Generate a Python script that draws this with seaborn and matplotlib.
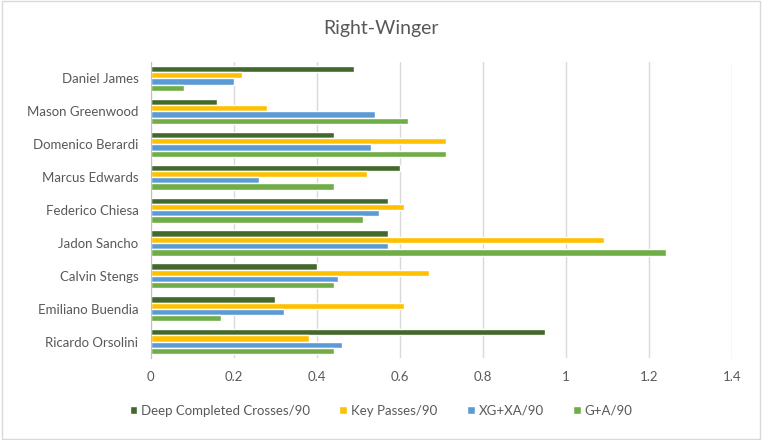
import matplotlib
matplotlib.use("Agg")
import matplotlib.pyplot as plt
import seaborn as sns
import pandas as pd

# 선수 / 지표 데이터
players = ["Daniel James", "Mason Greenwood", "Domenico Berardi", "Marcus Edwards",
           "Federico Chiesa", "Jadon Sancho", "Calvin Stengs", "Emiliano Buendia",
           "Ricardo Orsolini"]
metrics = ["Deep Completed Crosses/90", "Key Passes/90", "XG+XA/90", "G+A/90"]

deep_crosses = [0.49, 0.16, 0.44, 0.60, 0.57, 0.57, 0.40, 0.30, 0.95]
key_passes = [0.22, 0.28, 0.71, 0.52, 0.61, 1.09, 0.67, 0.61, 0.38]
xg_xa = [0.20, 0.54, 0.53, 0.26, 0.55, 0.57, 0.45, 0.32, 0.46]
g_a = [0.08, 0.62, 0.71, 0.44, 0.51, 1.24, 0.44, 0.17, 0.44]

colors = ["#43682B", "#FFC000", "#5B9BD5", "#70AD47"]

# long-form 테이블
rows = []
for m, vals in zip(metrics, [deep_crosses, key_passes, xg_xa, g_a]):
    for p, v in zip(players, vals):
        rows.append({"player": p, "metric": m, "value": v})
df = pd.DataFrame(rows)

sns.set_style("white")
plt.rcParams["font.family"] = ["Lato", "DejaVu Sans"]

fig = plt.figure(figsize=(7.62, 4.40), dpi=100)
ax = fig.add_axes([0.198, 0.186, 0.763, 0.673])

sns.barplot(data=df, y="player", x="value", hue="metric", order=players,
            hue_order=metrics, palette=colors, orient="h", width=0.76,
            saturation=1, ax=ax, legend=True)

ax.set_xlim(0, 1.4)
ax.set_xticks([0, 0.2, 0.4, 0.6, 0.8, 1.0, 1.2, 1.4])
ax.set_xticklabels(["0", "0.2", "0.4", "0.6", "0.8", "1", "1.2", "1.4"])
ax.set_xlabel("")
ax.set_ylabel("")
ax.xaxis.grid(True, color="#D9D9D9", linewidth=1)
ax.set_axisbelow(True)
for s in ["top", "right", "bottom"]:
    ax.spines[s].set_visible(False)
ax.spines["left"].set_color("#BFBFBF")
ax.tick_params(axis="both", length=0, labelsize=9.5, colors="#595959", pad=9)

fig.text(0.5, 0.935, "Right-Winger", ha="center", va="center",
         fontsize=14, color="#595959")

handles, labels = ax.get_legend_handles_labels()
ax.get_legend().remove()
fig.legend(handles, labels, loc="center", bbox_to_anchor=(0.5, 0.066), ncol=4,
           frameon=False, fontsize=9.5, labelcolor="#595959", handlelength=0.6,
           handleheight=0.6, handletextpad=0.3, columnspacing=2.2)

# 차트 테두리
fig.patches.append(plt.Rectangle((0.003, 0.003), 0.994, 0.994, transform=fig.transFigure,
                                 fill=False, edgecolor="#D9D9D9", linewidth=1))

fig.savefig("out.png", dpi=100)
